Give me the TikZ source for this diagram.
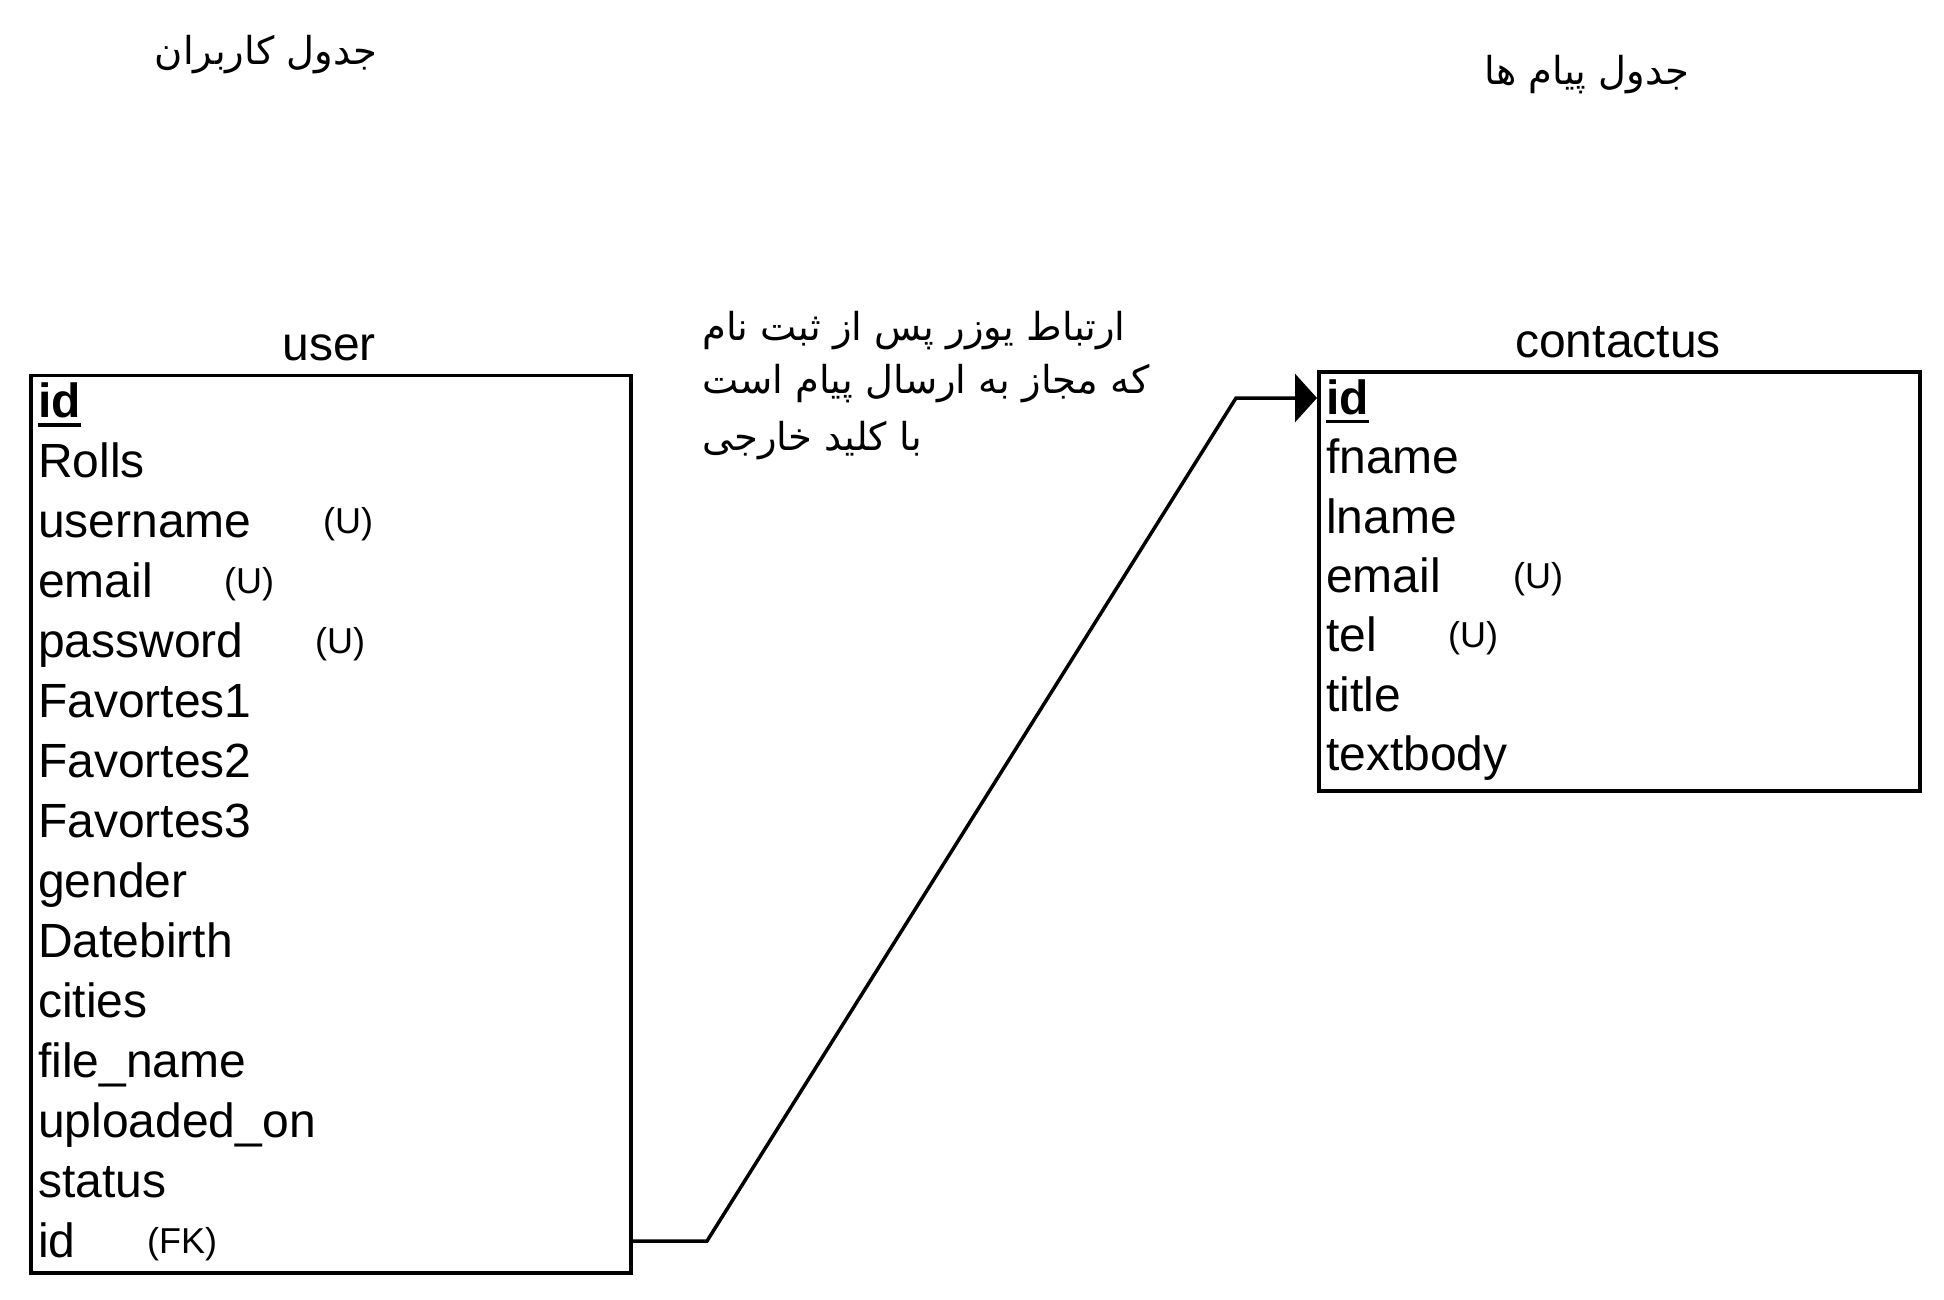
\documentclass[tikz,border=0pt]{standalone}
\usepackage{fontspec}
\setmainfont{Liberation Sans}
\newfontfamily\arabicfont[Script=Arabic]{DejaVu Sans}
\TeXXeTstate=1
\usetikzlibrary{arrows.meta}
\begin{document}
\begin{tikzpicture}[x=1pt,y=-1pt,
  tbl/.style={draw, line width=3.5pt, inner sep=0pt, anchor=north west},
  fld/.style={anchor=base west, inner sep=0pt, font=\fontsize{48}{50}\selectfont},
  tag/.style={anchor=base west, inner sep=0pt, font=\fontsize{36}{38}\selectfont},
  ttl/.style={anchor=base, inner sep=0pt, font=\fontsize{48}{50}\selectfont},
  fa/.style={inner sep=0pt, font=\arabicfont\fontsize{38.5}{42}\selectfont},
  ulin/.style={line width=3.4pt},
  link/.style={line width=3.5pt, -{Triangle[length=22pt,width=48pt]}},
]
\useasboundingbox (0,0) rectangle (1944,1300);

% titles (Persian)
\node[fa, anchor=base] (t1) at (266,65) {\beginR جدول کاربران\endR};
\node[fa, anchor=base] (t2) at (1587,85) {\beginR جدول پیام ها\endR};

% user table
\node[ttl] (utitle) at (329,360) {user};
\node[tbl, minimum width=600, minimum height=897.5] (user) at (29,373.5) {};
\node[fld] (u1) at (38,417) {\textbf{id}};
\draw[ulin] ([yshift=-8pt]u1.base west) -- ([yshift=-8pt]u1.base east);
\node[fld] (u2) at (38,477) {Rolls};
\node[fld] (u3) at (38,537) {username};
\node[tag] (u3t) at (323,533) {(U)};
\node[fld] (u4) at (38,597) {email};
\node[tag] (u4t) at (224,593) {(U)};
\node[fld] (u5) at (38,657) {password};
\node[tag] (u5t) at (315,653) {(U)};
\node[fld] (u6) at (38,717) {Favortes1};
\node[fld] (u7) at (38,777) {Favortes2};
\node[fld] (u8) at (38,837) {Favortes3};
\node[fld] (u9) at (38,897) {gender};
\node[fld] (u10) at (38,957) {Datebirth};
\node[fld] (u11) at (38,1017) {cities};
\node[fld] (u12) at (38,1077) {file\_name};
\node[fld] (u13) at (38,1137) {uploaded\_on};
\node[fld] (u14) at (38,1197) {status};
\node[fld] (fk) at (38,1257) {id};
\node[tag] (fkt) at (147,1253) {(FK)};

% contactus table
\node[ttl] (ctitle) at (1618,357) {contactus};
\node[tbl, minimum width=601, minimum height=419] (contact) at (1317,370) {};
\node[fld] (cid) at (1326,414.5) {\textbf{id}};
\draw[ulin] ([yshift=-7pt]cid.base west) -- ([yshift=-7pt]cid.base east);
\node[fld] (c2) at (1326,473.8) {fname};
\node[fld] (c3) at (1326,533.1) {lname};
\node[fld] (c4) at (1326,592.4) {email};
\node[tag] (c4t) at (1513,588.4) {(U)};
\node[fld] (c5) at (1326,651.7) {tel};
\node[tag] (c5t) at (1448,647.7) {(U)};
\node[fld] (c6) at (1326,711) {title};
\node[fld] (c7) at (1326,770.3) {textbody};

% relation note
\node[fa, anchor=base west] (m1) at (702,340) {\beginR ارتباط یوزر پس از ثبت نام\endR};
\node[fa, anchor=base west] (m2) at (702,393) {\beginR که مجاز به ارسال پیام است\endR};
\node[fa, anchor=base west] (m3) at (702,450) {\beginR با کلید خارجی\endR};

% connector
\coordinate (b1) at (707,1241);
\coordinate (b2) at (1236,398);
\draw[link] ([yshift=16pt]fk.base -| user.east) -- (b1) -- (b2) -- (b2 -| contact.west);
\end{tikzpicture}
\end{document}
